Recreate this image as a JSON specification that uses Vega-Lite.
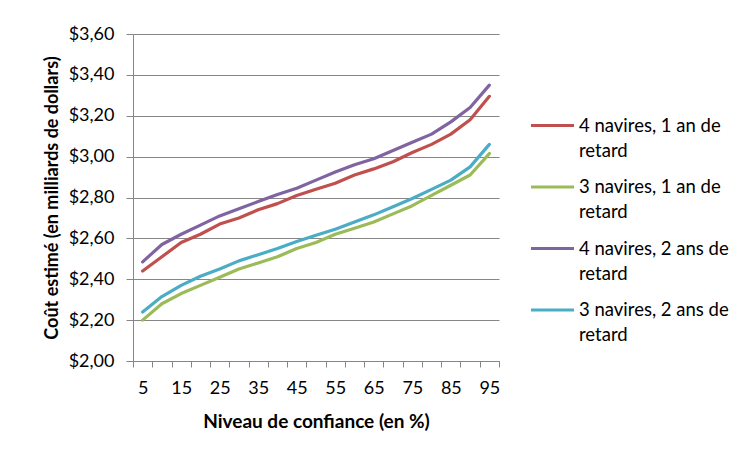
{
  "$schema": "https://vega.github.io/schema/vega-lite/v6.json",
  "width": 366,
  "height": 327,
  "autosize": {"type": "none"},
  "padding": {"left": 133, "top": 34, "right": 239, "bottom": 88},
  "background": "white",
  "config": {
    "font": "Lato",
    "view": {"stroke": null},
    "style": {"guide-label": {"lineHeight": 25}},
    "axis": {"labelFont": "Lato", "titleFont": "Lato", "labelColor": "#000", "titleColor": "#000", "domainColor": "#868686", "tickColor": "#868686", "gridColor": "#868686"}
  },
  "data": {
    "values": [
      {"conf": 5, "series": "4 navires, 1 an de retard", "cost": 2.44},
      {"conf": 10, "series": "4 navires, 1 an de retard", "cost": 2.51},
      {"conf": 15, "series": "4 navires, 1 an de retard", "cost": 2.58},
      {"conf": 20, "series": "4 navires, 1 an de retard", "cost": 2.62},
      {"conf": 25, "series": "4 navires, 1 an de retard", "cost": 2.67},
      {"conf": 30, "series": "4 navires, 1 an de retard", "cost": 2.70},
      {"conf": 35, "series": "4 navires, 1 an de retard", "cost": 2.74},
      {"conf": 40, "series": "4 navires, 1 an de retard", "cost": 2.77},
      {"conf": 45, "series": "4 navires, 1 an de retard", "cost": 2.81},
      {"conf": 50, "series": "4 navires, 1 an de retard", "cost": 2.84},
      {"conf": 55, "series": "4 navires, 1 an de retard", "cost": 2.87},
      {"conf": 60, "series": "4 navires, 1 an de retard", "cost": 2.91},
      {"conf": 65, "series": "4 navires, 1 an de retard", "cost": 2.94},
      {"conf": 70, "series": "4 navires, 1 an de retard", "cost": 2.975},
      {"conf": 75, "series": "4 navires, 1 an de retard", "cost": 3.02},
      {"conf": 80, "series": "4 navires, 1 an de retard", "cost": 3.06},
      {"conf": 85, "series": "4 navires, 1 an de retard", "cost": 3.11},
      {"conf": 90, "series": "4 navires, 1 an de retard", "cost": 3.18},
      {"conf": 95, "series": "4 navires, 1 an de retard", "cost": 3.295},
      {"conf": 5, "series": "3 navires, 1 an de retard", "cost": 2.20},
      {"conf": 10, "series": "3 navires, 1 an de retard", "cost": 2.28},
      {"conf": 15, "series": "3 navires, 1 an de retard", "cost": 2.33},
      {"conf": 20, "series": "3 navires, 1 an de retard", "cost": 2.37},
      {"conf": 25, "series": "3 navires, 1 an de retard", "cost": 2.41},
      {"conf": 30, "series": "3 navires, 1 an de retard", "cost": 2.45},
      {"conf": 35, "series": "3 navires, 1 an de retard", "cost": 2.48},
      {"conf": 40, "series": "3 navires, 1 an de retard", "cost": 2.51},
      {"conf": 45, "series": "3 navires, 1 an de retard", "cost": 2.55},
      {"conf": 50, "series": "3 navires, 1 an de retard", "cost": 2.58},
      {"conf": 55, "series": "3 navires, 1 an de retard", "cost": 2.62},
      {"conf": 60, "series": "3 navires, 1 an de retard", "cost": 2.65},
      {"conf": 65, "series": "3 navires, 1 an de retard", "cost": 2.68},
      {"conf": 70, "series": "3 navires, 1 an de retard", "cost": 2.72},
      {"conf": 75, "series": "3 navires, 1 an de retard", "cost": 2.76},
      {"conf": 80, "series": "3 navires, 1 an de retard", "cost": 2.81},
      {"conf": 85, "series": "3 navires, 1 an de retard", "cost": 2.86},
      {"conf": 90, "series": "3 navires, 1 an de retard", "cost": 2.91},
      {"conf": 95, "series": "3 navires, 1 an de retard", "cost": 3.015},
      {"conf": 5, "series": "4 navires, 2 ans de retard", "cost": 2.485},
      {"conf": 10, "series": "4 navires, 2 ans de retard", "cost": 2.57},
      {"conf": 15, "series": "4 navires, 2 ans de retard", "cost": 2.62},
      {"conf": 20, "series": "4 navires, 2 ans de retard", "cost": 2.665},
      {"conf": 25, "series": "4 navires, 2 ans de retard", "cost": 2.71},
      {"conf": 30, "series": "4 navires, 2 ans de retard", "cost": 2.745},
      {"conf": 35, "series": "4 navires, 2 ans de retard", "cost": 2.78},
      {"conf": 40, "series": "4 navires, 2 ans de retard", "cost": 2.815},
      {"conf": 45, "series": "4 navires, 2 ans de retard", "cost": 2.845},
      {"conf": 50, "series": "4 navires, 2 ans de retard", "cost": 2.885},
      {"conf": 55, "series": "4 navires, 2 ans de retard", "cost": 2.925},
      {"conf": 60, "series": "4 navires, 2 ans de retard", "cost": 2.96},
      {"conf": 65, "series": "4 navires, 2 ans de retard", "cost": 2.99},
      {"conf": 70, "series": "4 navires, 2 ans de retard", "cost": 3.03},
      {"conf": 75, "series": "4 navires, 2 ans de retard", "cost": 3.07},
      {"conf": 80, "series": "4 navires, 2 ans de retard", "cost": 3.11},
      {"conf": 85, "series": "4 navires, 2 ans de retard", "cost": 3.17},
      {"conf": 90, "series": "4 navires, 2 ans de retard", "cost": 3.24},
      {"conf": 95, "series": "4 navires, 2 ans de retard", "cost": 3.35},
      {"conf": 5, "series": "3 navires, 2 ans de retard", "cost": 2.24},
      {"conf": 10, "series": "3 navires, 2 ans de retard", "cost": 2.315},
      {"conf": 15, "series": "3 navires, 2 ans de retard", "cost": 2.37},
      {"conf": 20, "series": "3 navires, 2 ans de retard", "cost": 2.415},
      {"conf": 25, "series": "3 navires, 2 ans de retard", "cost": 2.45},
      {"conf": 30, "series": "3 navires, 2 ans de retard", "cost": 2.49},
      {"conf": 35, "series": "3 navires, 2 ans de retard", "cost": 2.52},
      {"conf": 40, "series": "3 navires, 2 ans de retard", "cost": 2.55},
      {"conf": 45, "series": "3 navires, 2 ans de retard", "cost": 2.585},
      {"conf": 50, "series": "3 navires, 2 ans de retard", "cost": 2.615},
      {"conf": 55, "series": "3 navires, 2 ans de retard", "cost": 2.645},
      {"conf": 60, "series": "3 navires, 2 ans de retard", "cost": 2.68},
      {"conf": 65, "series": "3 navires, 2 ans de retard", "cost": 2.715},
      {"conf": 70, "series": "3 navires, 2 ans de retard", "cost": 2.755},
      {"conf": 75, "series": "3 navires, 2 ans de retard", "cost": 2.795},
      {"conf": 80, "series": "3 navires, 2 ans de retard", "cost": 2.84},
      {"conf": 85, "series": "3 navires, 2 ans de retard", "cost": 2.885},
      {"conf": 90, "series": "3 navires, 2 ans de retard", "cost": 2.95},
      {"conf": 95, "series": "3 navires, 2 ans de retard", "cost": 3.06}
    ]
  },
  "mark": {"type": "line", "strokeWidth": 3.2, "strokeCap": "round", "strokeJoin": "round"},
  "encoding": {
    "x": {
      "field": "conf",
      "type": "ordinal",
      "bandPosition": 0.5,
      "scale": {"type": "band", "paddingInner": 0, "paddingOuter": 0},
      "axis": {
        "title": "Niveau de confiance (en %)",
        "titleFontSize": 19,
        "titleFontWeight": "bold",
        "titlePadding": 15,
        "labelFontSize": 18,
        "labelAngle": 0,
        "labelPadding": 12,
        "tickBand": "extent",
        "tickSize": 6,
        "grid": false,
        "labelExpr": "datum.value % 10 == 5 ? datum.label : ''"
      }
    },
    "y": {
      "field": "cost",
      "type": "quantitative",
      "scale": {"domain": [2, 3.6], "nice": false, "zero": false},
      "axis": {
        "title": "Coût estimé (en milliards de dollars)",
        "titleFontSize": 18,
        "titleFontWeight": "bold",
        "titlePadding": 7,
        "labelFontSize": 18,
        "labelPadding": 12,
        "tickSize": 7,
        "values": [2, 2.2, 2.4, 2.6, 2.8, 3.0, 3.2, 3.4, 3.6],
        "labelExpr": "'$' + replace(format(datum.value, '.2f'), '.', ',')"
      }
    },
    "color": {
      "field": "series",
      "type": "nominal",
      "sort": ["4 navires, 1 an de retard", "3 navires, 1 an de retard", "4 navires, 2 ans de retard", "3 navires, 2 ans de retard"],
      "scale": {
        "domain": ["4 navires, 1 an de retard", "3 navires, 1 an de retard", "4 navires, 2 ans de retard", "3 navires, 2 ans de retard"],
        "range": ["#C0504D", "#9BBB59", "#8064A2", "#4BACC6"]
      },
      "legend": {
        "title": null,
        "orient": "none",
        "legendX": 396,
        "legendY": 68,
        "symbolType": "stroke",
        "symbolStrokeWidth": 3.2,
        "symbolSize": 1849,
        "labelFontSize": 18.5,
        "labelFont": "Lato",
        "labelColor": "#000",
        "labelOffset": 3,
        "labelLimit": 300,
        "rowPadding": 3.5,
        "labelExpr": "split(replace(datum.label, ' retard', '|retard'), '|')"
      }
    }
  }
}
